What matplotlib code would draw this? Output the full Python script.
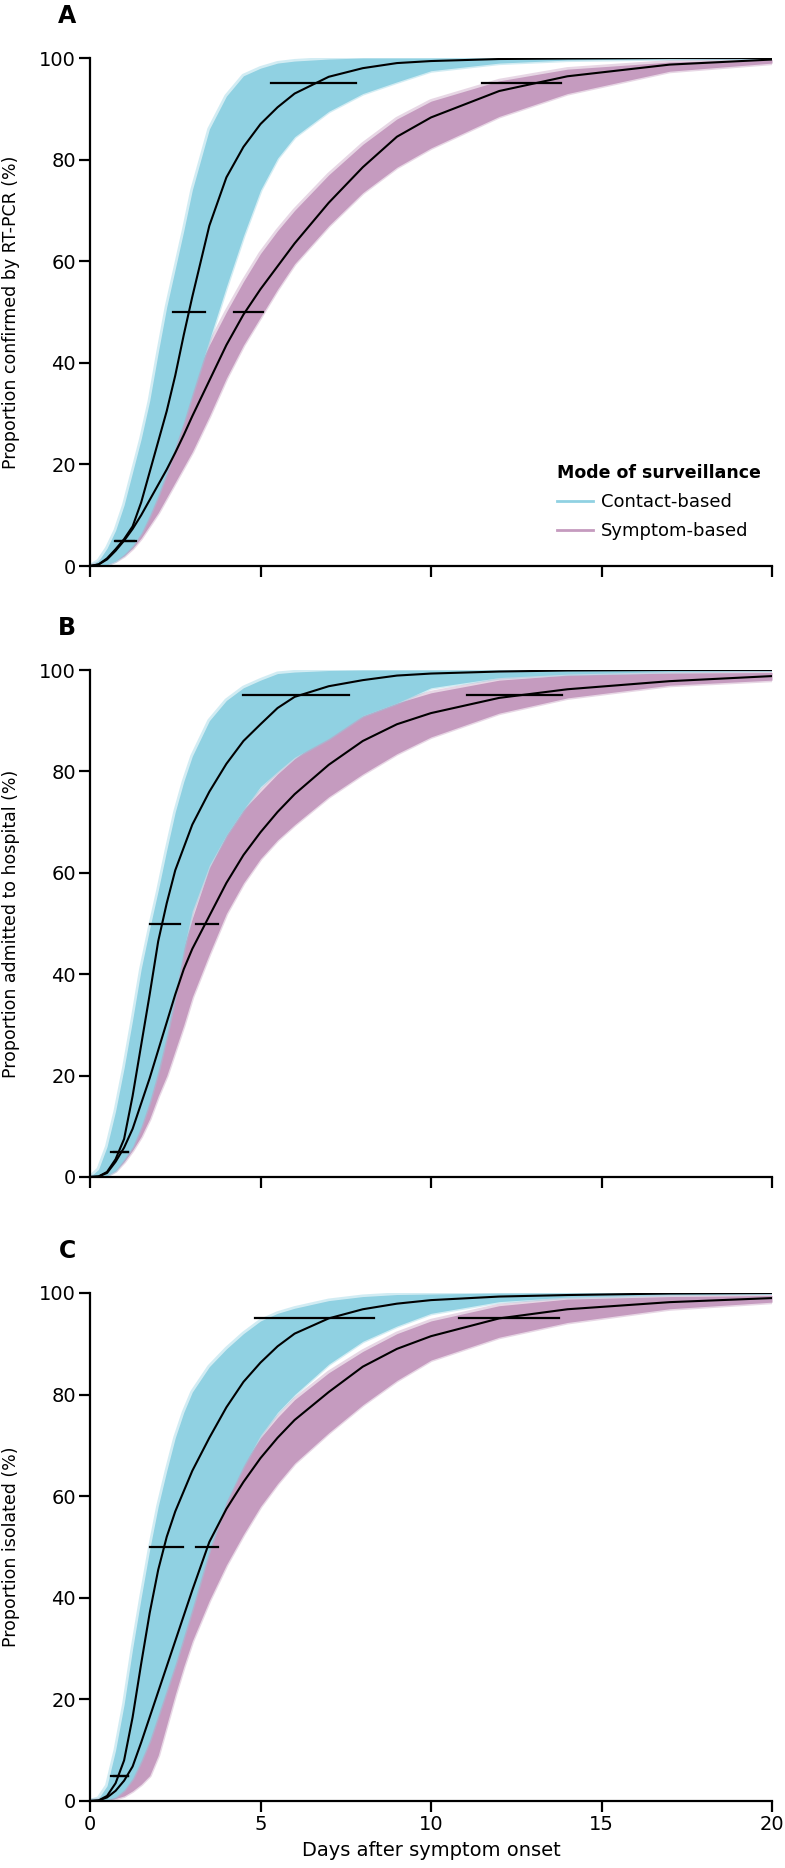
import matplotlib
matplotlib.use("Agg")
import matplotlib.pyplot as plt
from matplotlib.lines import Line2D

# ─────────────────────────────────────────────
# DATA (cumulative %, by day after onset)
# ─────────────────────────────────────────────

DAYS = [0, 0.25, 0.5, 0.75, 1, 1.25, 1.5, 1.75, 2, 2.25, 2.5, 2.75, 3, 3.5, 4, 4.5,
        5, 5.5, 6, 7, 8, 9, 10, 12, 14, 17, 20]

# Panel A — confirmed by RT-PCR
A_CONTACT_MED = [0, 0.3, 1.5, 3.3, 5.3, 7.8, 12.5, 18.5, 24.5, 30.5, 37.5, 45.5, 53, 67, 76.5, 82.5,
                 87, 90.3, 93, 96.3, 98, 99, 99.4, 99.8, 99.9, 100, 100]
A_CONTACT_HI  = [0, 1, 3.5, 7, 12, 18.5, 25, 32.5, 42, 51, 58.5, 66, 74, 86, 92.5, 96.5,
                 98, 99, 99.4, 99.8, 100, 100, 100, 100, 100, 100, 100]
A_CONTACT_LO  = [0, 0, 0.3, 1, 2.3, 4, 6.5, 10, 14, 18.5, 23.5, 28.5, 34, 44.5, 55, 65,
                 74, 80.3, 84.5, 89.5, 93, 95.3, 97.5, 99, 99.6, 99.9, 100]
A_SYMPTOM_MED = [0, 0.3, 1.3, 3, 5, 7.3, 10, 13, 16, 19, 22.3, 25.8, 29.5, 36.5, 43.5, 49.5,
                 54.5, 59, 63.5, 71.5, 78.5, 84.5, 88.3, 93.5, 96.4, 98.7, 99.7]
A_SYMPTOM_HI  = [0, 0.5, 2, 4, 6.5, 9.5, 13, 16.5, 20.5, 24.5, 28.5, 32.5, 36.5, 43.5, 50, 56,
                 61.5, 66, 70, 77, 83, 88, 91.5, 95.5, 97.8, 99.2, 99.7]
A_SYMPTOM_LO  = [0, 0, 0.3, 1, 2, 3.5, 5.5, 8, 10.5, 13.5, 16.5, 19.5, 22.5, 29.5, 37, 43.5,
                 49, 54.5, 59.5, 67, 73.5, 78.5, 82.3, 88.5, 93, 97.4, 99]

# Panel B — admitted to hospital
B_CONTACT_MED = [0, 0.1, 1, 3.5, 7.5, 16, 26, 36, 46.5, 54, 60.5, 65, 69.5, 76, 81.5, 86,
                 89.3, 92.5, 94.7, 96.8, 98, 98.9, 99.3, 99.7, 99.9, 100, 100]
B_CONTACT_HI  = [0, 1.5, 6, 13, 21.5, 31, 41, 49, 56.5, 64.5, 72, 78, 83, 90, 94, 96.5,
                 98, 99.3, 99.6, 99.9, 100, 100, 100, 100, 100, 100, 100]
B_CONTACT_LO  = [0, 0, 0.3, 1.3, 3.5, 6, 10, 15, 21, 28, 36, 45, 52.5, 61.5, 67.5, 72.5,
                 77, 80, 82.8, 86.5, 91, 93.5, 96.5, 98.5, 99.2, 99.7, 100]
B_SYMPTOM_MED = [0, 0.1, 0.8, 3, 5.8, 9.5, 14.5, 19.5, 25, 30.5, 36, 41, 45, 51.5, 58, 63.5,
                 68, 72, 75.5, 81.3, 86, 89.3, 91.5, 94.5, 96.2, 97.8, 98.8]
B_SYMPTOM_HI  = [0, 0.2, 1.2, 3.5, 6, 8.5, 11.5, 17, 25, 32, 39, 45.5, 51, 61, 67.5, 72.5,
                 76, 79.5, 82.5, 87.5, 91, 93.5, 95.5, 98, 99, 99.4, 99.5]
B_SYMPTOM_LO  = [0, 0, 0.3, 1.2, 3, 5.3, 8, 11.5, 16, 20, 25, 30, 35.5, 44, 52, 58,
                 62.8, 66.5, 69.5, 75, 79.5, 83.5, 86.8, 91.5, 94.5, 97, 98]

# Panel C — isolated
C_CONTACT_MED = [0, 0.1, 1, 3.5, 8, 16.5, 27, 37, 45.5, 52, 57, 61, 65, 71.5, 77.5, 82.5,
                 86.3, 89.5, 92, 95, 96.8, 97.9, 98.6, 99.3, 99.6, 99.9, 100]
C_CONTACT_HI  = [0, 0.5, 3, 10, 19, 30, 40, 49.5, 58, 65, 71.5, 76.5, 80.5, 85.5, 89, 92,
                 94.5, 96, 97, 98.5, 99.3, 99.7, 99.8, 100, 100, 100, 100]
C_CONTACT_LO  = [0, 0, 0.2, 0.8, 2.2, 4.5, 8, 12, 17, 22, 27, 32.5, 38, 49.5, 59, 66,
                 72, 76.5, 80, 86, 90.5, 93.5, 96, 98.3, 99.2, 99.7, 100]
C_SYMPTOM_MED = [0, 0.1, 0.7, 2, 4, 6.8, 11.5, 16.5, 21.5, 26.5, 31.5, 36.5, 41.5, 51, 57.5, 62.8,
                 67.5, 71.5, 75, 80.5, 85.5, 89, 91.5, 95, 96.8, 98.2, 99]
C_SYMPTOM_HI  = [0, 0.2, 1, 2.5, 5, 8, 12, 16.5, 21, 27, 33, 39, 44.5, 54, 60.5, 66.5,
                 71.5, 75.5, 79, 84.3, 88.5, 92, 94.5, 97.5, 98.8, 99.3, 99.5]
C_SYMPTOM_LO  = [0, 0, 0.1, 0.5, 1, 2, 3.3, 5, 9, 15, 21, 26.5, 31.5, 39.5, 46.5, 52.5,
                 58, 62.5, 66.5, 72.5, 78, 82.8, 86.8, 91.3, 94.2, 96.9, 98.2]

# Interval bars at 5 %, 50 % and 95 % (day range)
CI_LEVELS = [5, 50, 95]
A_CONTACT_CI = [(0.73, 1.35), (2.44, 3.37), (5.3, 7.8)]
A_SYMPTOM_CI = [(0.75, 1.3), (4.22, 5.07), (11.5, 13.8)]
B_CONTACT_CI = [(0.63, 1.1), (1.76, 2.63), (4.49, 7.6)]
B_SYMPTOM_CI = [(0.7, 1.1), (3.1, 3.76), (11.05, 13.84)]
C_CONTACT_CI = [(0.62, 1.1), (1.76, 2.73), (4.83, 8.34)]
C_SYMPTOM_CI = [(0.7, 1.1), (3.1, 3.76), (10.83, 13.76)]

PANEL_LETTERS = ["A", "B", "C"]
Y_LABELS = [
    "Proportion confirmed by RT-PCR (%)",
    "Proportion admitted to hospital (%)",
    "Proportion isolated (%)",
]
X_LABEL = "Days after symptom onset"
LEGEND_TITLE = "Mode of surveillance"
LEGEND_LABELS = ["Contact-based", "Symptom-based"]

BLUE = "#90d1e2"
PURPLE = "#c59bbf"

PANELS = [
    (A_CONTACT_MED, A_CONTACT_LO, A_CONTACT_HI, A_SYMPTOM_MED, A_SYMPTOM_LO, A_SYMPTOM_HI,
     A_CONTACT_CI, A_SYMPTOM_CI),
    (B_CONTACT_MED, B_CONTACT_LO, B_CONTACT_HI, B_SYMPTOM_MED, B_SYMPTOM_LO, B_SYMPTOM_HI,
     B_CONTACT_CI, B_SYMPTOM_CI),
    (C_CONTACT_MED, C_CONTACT_LO, C_CONTACT_HI, C_SYMPTOM_MED, C_SYMPTOM_LO, C_SYMPTOM_HI,
     C_CONTACT_CI, C_SYMPTOM_CI),
]

# axes boxes in pixels: (top, bottom) of each panel
W, H = 785, 1868
AX_LEFT, AX_RIGHT = 90, 772
AX_ROWS = [(58, 566), (670, 1177), (1293, 1801)]


def band(ax, lo, hi, color):
    ax.fill_between(DAYS, lo, hi, color=color, lw=0, zorder=2)
    # soft fringe along the band edges
    ax.plot(DAYS, lo, color=color, lw=3, alpha=0.4, zorder=2, solid_joinstyle="round")
    ax.plot(DAYS, hi, color=color, lw=3, alpha=0.4, zorder=2, solid_joinstyle="round")


plt.rcParams["font.family"] = "DejaVu Sans"
fig = plt.figure(figsize=(W / 100, H / 100), dpi=100)

for i, (panel, letter, ylab, (top, bot)) in enumerate(zip(PANELS, PANEL_LETTERS, Y_LABELS, AX_ROWS)):
    c_med, c_lo, c_hi, s_med, s_lo, s_hi, c_ci, s_ci = panel
    ax = fig.add_axes([AX_LEFT / W, 1 - bot / H, (AX_RIGHT - AX_LEFT) / W, (bot - top) / H])

    # symptom band underneath, contact band on top
    band(ax, s_lo, s_hi, PURPLE)
    band(ax, c_lo, c_hi, BLUE)

    ax.plot(DAYS, c_med, color="black", lw=1.5, zorder=4, solid_joinstyle="round")
    ax.plot(DAYS, s_med, color="black", lw=1.5, zorder=4, solid_joinstyle="round")

    for lvl, (x0, x1) in zip(CI_LEVELS, c_ci):
        ax.plot([x0, x1], [lvl, lvl], color="black", lw=1.6, zorder=5)
    for lvl, (x0, x1) in zip(CI_LEVELS, s_ci):
        ax.plot([x0, x1], [lvl, lvl], color="black", lw=1.6, zorder=5)

    ax.set_xlim(0, 20)
    ax.set_ylim(0, 100)
    ax.set_xticks([0, 5, 10, 15, 20])
    ax.set_yticks([0, 20, 40, 60, 80, 100])
    ax.spines[["top", "right"]].set_visible(False)
    ax.spines[["left", "bottom"]].set_linewidth(1.6)
    ax.tick_params(length=8, width=1.6, labelsize=14, pad=2)
    if i < 2:
        ax.tick_params(axis="x", labelbottom=False)
    else:
        ax.set_xlabel(X_LABEL, fontsize=14, labelpad=5)

    ax.set_ylabel(ylab, fontsize=12.5)
    ax.yaxis.set_label_coords(-0.103, 0.5)

    fig.text(67 / W, 1 - (top - 42) / H, letter, fontsize=17, fontweight="bold",
             ha="center", va="center")

    if i == 0:
        handles = [Line2D([0], [0], color=BLUE, lw=2),
                   Line2D([0], [0], color=PURPLE, lw=2)]
        leg = ax.legend(handles, LEGEND_LABELS, title=LEGEND_TITLE, loc="lower right",
                        bbox_to_anchor=(1.0, 0.03), frameon=False, fontsize=13,
                        title_fontsize=12.5, handlelength=2.0, handletextpad=0.4,
                        labelspacing=0.6, borderaxespad=0.2)
        leg.get_title().set_fontweight("bold")
        leg._legend_box.align = "left"

fig.savefig("out.png", dpi=100, facecolor="white")
